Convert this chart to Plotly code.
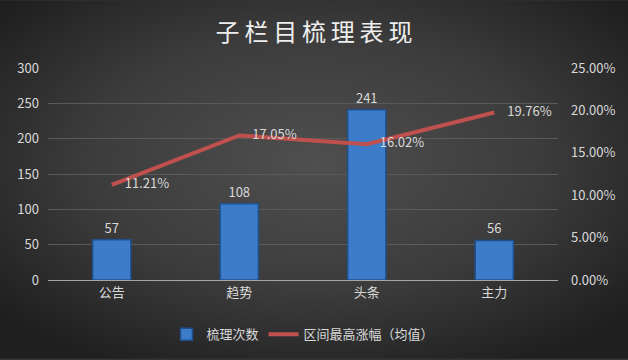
import plotly.graph_objects as go
import urllib.parse

categories = ["公告", "趋势", "头条", "主力"]
counts = [57, 108, 241, 56]
rise = [0.1121, 0.1705, 0.1602, 0.1976]
left_ticks = [0, 50, 100, 150, 200, 250, 300]
right_ticks = [0, 0.05, 0.10, 0.15, 0.20, 0.25]

svg = ('<svg xmlns="http://www.w3.org/2000/svg" width="628" height="360" preserveAspectRatio="none">'
       '<defs><radialGradient id="g" cx="50%" cy="45%" r="65%">'
       '<stop offset="0%" stop-color="#4f4f4f"/><stop offset="55%" stop-color="#3c3c3c"/>'
       '<stop offset="100%" stop-color="#1f1f1f"/></radialGradient></defs>'
       '<rect width="628" height="360" fill="url(#g)"/></svg>')
bg = "data:image/svg+xml;charset=utf-8," + urllib.parse.quote(svg)

L, R, T, B = 48, 70, 68, 79
W, H = 628, 360
pw, ph = W - L - R, H - T - B

font = "Noto Sans CJK SC, Noto Sans, sans-serif"
tc = "#d9d9d9"

fig = go.Figure()
fig.add_trace(go.Bar(
    x=categories, y=counts, name="梳理次数", width=0.3,
    marker=dict(color="#3d7cc9", line=dict(color="#1f4f8f", width=1.5)),
    text=[str(v) for v in counts], textposition="outside",
    textfont=dict(color=tc, size=13), cliponaxis=False,
))
fig.add_trace(go.Scatter(
    x=categories, y=rise, name="区间最高涨幅（均值）", yaxis="y2",
    mode="lines+text", line=dict(color="#c0504d", width=4),
    text=[f"\u2003{v*100:.2f}%" for v in rise], textposition="middle right",
    textfont=dict(color=tc, size=13), cliponaxis=False,
))

title = "\u2009".join("子栏目梳理表现")

fig.update_layout(
    width=W, height=H,
    margin=dict(l=L, r=R, t=T, b=B),
    paper_bgcolor="#333333", plot_bgcolor="rgba(0,0,0,0)",
    images=[dict(source=bg, xref="paper", yref="paper",
                 x=-L / pw, y=1 + T / ph, sizex=W / pw, sizey=H / ph,
                 xanchor="left", yanchor="top", layer="below", sizing="stretch")],
    title=dict(text=title, x=0.5, xanchor="center", y=0.91, yanchor="middle",
               font=dict(family=font, size=24, color="#eeeeee")),
    font=dict(family=font, color=tc, size=12),
    showlegend=True,
    legend=dict(orientation="h", x=0.5, xanchor="center", y=-0.25, yanchor="middle",
                font=dict(size=13, color=tc), bgcolor="rgba(0,0,0,0)"),
    xaxis=dict(showgrid=False, showline=True, linecolor="#a6a6a6", linewidth=1,
               tickfont=dict(size=13, color=tc), ticks=""),
    yaxis=dict(range=[0, 300], tickvals=left_ticks, showgrid=True, gridcolor="#5a5a5a",
               gridwidth=1, zeroline=False, tickfont=dict(size=13, color=tc), ticklabelstandoff=8),
    yaxis2=dict(range=[0, 0.25], tickvals=right_ticks, tickformat=".2%", overlaying="y",
                side="right", showgrid=False, zeroline=False,
                tickfont=dict(size=13, color=tc), ticklabelstandoff=12),
)

fig.write_html("out.html")
